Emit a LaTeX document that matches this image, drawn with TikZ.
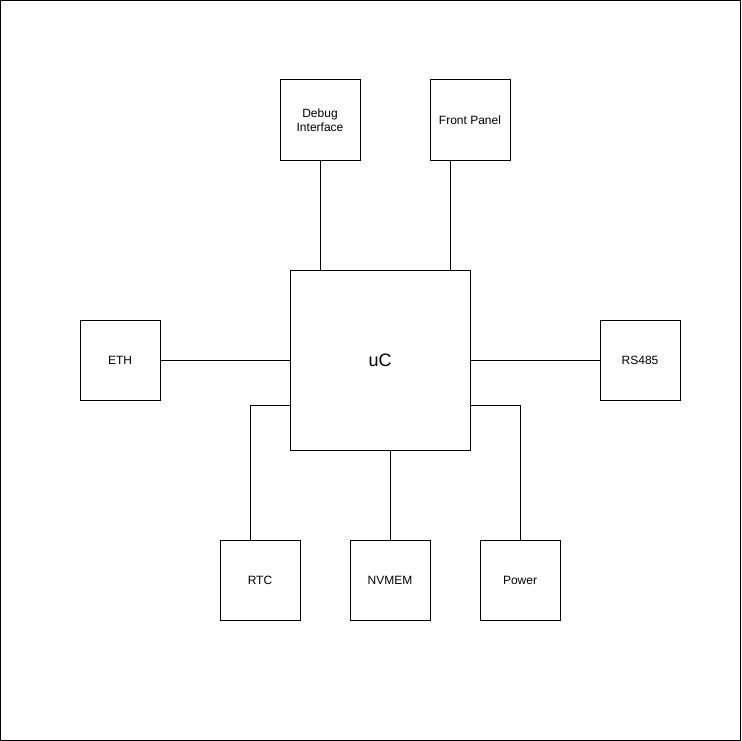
\documentclass[tikz,border=0pt]{standalone}
\usepackage{fontspec}
\setmainfont{Liberation Sans}
\usetikzlibrary{positioning,calc}

\tikzset{
  blk/.style={draw,black,line width=1pt,minimum size=80pt,inner sep=0pt,align=center,
    font=\fontsize{12}{14}\selectfont},
  mcu/.style={blk,minimum size=180pt,font=\fontsize{18}{20}\selectfont},
  wire/.style={-,line width=1pt}
}

\begin{document}
\begin{tikzpicture}[x=1pt,y=-1pt]

\draw[line width=1pt] (0.5,0.5) rectangle (740.5,740.5);

\node [mcu] at (380,360) (uc) {uC};

\node [blk] at (320,120) (dbg) {Debug\\Interface};
\node [blk] at (470,120) (fp)  {Front Panel};
\node [blk] at (120,360) (eth) {ETH};
\node [blk] at (640,360) (rs)  {RS485};
\node [blk] at (260,580) (rtc) {RTC};
\node [blk] at (390,580) (nv)  {NVMEM};
\node [blk] at (520,580) (pwr) {Power};

\draw[wire] (dbg.south) -- (dbg.south |- uc.north);
\draw[wire] ([xshift=-20pt]fp.south) -- ([xshift=-20pt]fp.south |- uc.north);
\draw[wire] (eth.east) -- (uc.west);
\draw[wire] (uc.east) -- (rs.west);
\draw[wire] ([xshift=-10pt]rtc.north) |- ([yshift=-45pt]uc.west);
\draw[wire] (nv.north) -- (nv.north |- uc.south);
\draw[wire] (pwr.north) |- ([yshift=-45pt]uc.east);

\end{tikzpicture}
\end{document}
